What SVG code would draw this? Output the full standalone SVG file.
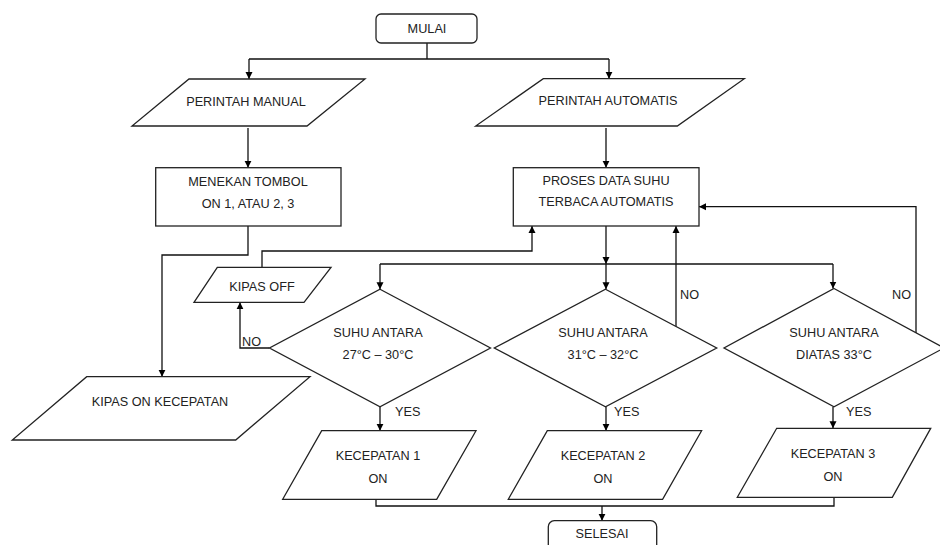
<svg xmlns="http://www.w3.org/2000/svg" width="940" height="545" viewBox="0 0 940 545">
<defs>
<marker id="ah" viewBox="0 0 10 10" refX="10" refY="5" markerWidth="7" markerHeight="8" orient="auto" markerUnits="userSpaceOnUse">
<path d="M0,0 L10,5 L0,10 z" fill="#000"/>
</marker>
<style>
.s{fill:#fff;stroke:#222;stroke-width:1.3}
.c{fill:none;stroke:#111;stroke-width:1.3}
.a{marker-end:url(#ah)}
text{font-family:"Liberation Sans",Arial,sans-serif;font-size:12.7px;fill:#222;text-anchor:middle}
.l{text-anchor:start}
</style>
</defs>
<rect width="940" height="545" fill="#fff"/>
<g id="connectors">
<path class="c" d="M427,43 V59 M249,59 H609"/>
<path class="c a" d="M249,59 V79"/>
<path class="c a" d="M609,59 V78.7"/>
<path class="c a" d="M248,128 V167.7"/>
<path class="c a" d="M606,128 V167.7"/>
<path class="c a" d="M248,226 V255 H162 V376.7"/>
<path class="c a" d="M262,267.3 V251 H532 V226"/>
<path class="c a" d="M606,226 V264"/>
<path class="c" d="M380,264 H833"/>
<path class="c a" d="M380,264 V289.3"/>
<path class="c a" d="M606,264 V289.3"/>
<path class="c a" d="M833,264 V288.5"/>
<path class="c a" d="M269.5,348 H240 V302.3"/>
<path class="c a" d="M676,326.7 V226"/>
<path class="c a" d="M916,333.5 V206.7 H699"/>
<path class="c a" d="M380,406.7 V430.7"/>
<path class="c a" d="M606,406.7 V430.7"/>
<path class="c a" d="M833,406.7 V428.3"/>
<path class="c" d="M376,499.3 V506 H834 V497.3"/>
<path class="c a" d="M602,506 V520.7"/>
<text class="l" x="242" y="346">NO</text>
<text class="l" x="680" y="299">NO</text>
<text class="l" x="892" y="299">NO</text>
<text class="l" x="395" y="416">YES</text>
<text class="l" x="614" y="416">YES</text>
<text class="l" x="846" y="416">YES</text>
</g>
<g id="mulai">
<rect class="s" x="376" y="14" width="101" height="29" rx="5"/>
<text x="427" y="33">MULAI</text>
</g>
<g id="perintah-manual">
<polygon class="s" points="189,79 365,79 307,126 132,126"/>
<text x="246" y="106">PERINTAH MANUAL</text>
</g>
<g id="perintah-automatis">
<polygon class="s" points="543.3,78.7 744.3,78.7 677.3,126 475.7,126"/>
<text x="608" y="105">PERINTAH AUTOMATIS</text>
</g>
<g id="menekan-tombol">
<rect class="s" x="155.7" y="167.7" width="185.3" height="58.3"/>
<text x="248" y="186">MENEKAN TOMBOL</text>
<text x="248" y="208">ON 1, ATAU 2, 3</text>
</g>
<g id="proses-data">
<rect class="s" x="513.3" y="167.7" width="185.7" height="58.3"/>
<text x="606" y="185">PROSES DATA SUHU</text>
<text x="606" y="206">TERBACA AUTOMATIS</text>
</g>
<g id="kipas-off">
<polygon class="s" points="217.3,267.3 331,267.3 304,302.3 194,302.3"/>
<text x="262" y="291">KIPAS OFF</text>
</g>
<g id="kipas-on-kecepatan">
<polygon class="s" points="86.7,376.7 310,376.7 235.7,440 12.3,440"/>
<text x="160" y="406">KIPAS ON KECEPATAN</text>
</g>
<g id="suhu-27-30">
<polygon class="s" points="380,289.3 490.5,348 380,406.7 269.5,348"/>
<text x="378" y="337">SUHU ANTARA</text>
<text x="378" y="359">27°C – 30°C</text>
</g>
<g id="suhu-31-32">
<polygon class="s" points="605.5,289.3 716.7,348 605.5,406.7 494.3,348"/>
<text x="603" y="337">SUHU ANTARA</text>
<text x="603" y="359">31°C – 32°C</text>
</g>
<g id="suhu-33">
<polygon class="s" points="834,288.5 944,348 834,406.7 724,348"/>
<text x="834" y="337">SUHU ANTARA</text>
<text x="834" y="359">DIATAS 33°C</text>
</g>
<g id="kecepatan-1">
<polygon class="s" points="321.7,430.7 476,430.7 436.7,499.3 282.7,499.3"/>
<text x="378" y="460">KECEPATAN 1</text>
<text x="378" y="483">ON</text>
</g>
<g id="kecepatan-2">
<polygon class="s" points="547.3,430.7 701.6,430.7 662.6,499.3 508.3,499.3"/>
<text x="603" y="460">KECEPATAN 2</text>
<text x="603" y="483">ON</text>
</g>
<g id="kecepatan-3">
<polygon class="s" points="776.7,428.3 930.7,428.3 892.3,497.3 737.3,497.3"/>
<text x="833" y="458">KECEPATAN 3</text>
<text x="833" y="481">ON</text>
</g>
<g id="selesai">
<rect class="s" x="548.3" y="520.7" width="108.4" height="40" rx="6"/>
<text x="602" y="538">SELESAI</text>
</g>
</svg>
